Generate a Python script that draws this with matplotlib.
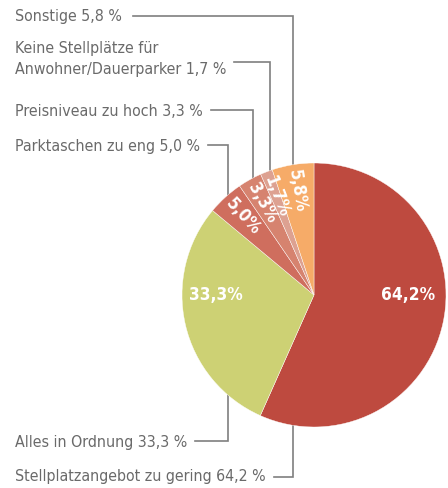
import numpy as np
import matplotlib
matplotlib.use("Agg")
import matplotlib.pyplot as plt

# ---- data ----
categories = ["Stellplatzangebot zu gering", "Alles in Ordnung", "Parktaschen zu eng",
              "Preisniveau zu hoch", "Keine Stellplätze für\nAnwohner/Dauerparker", "Sonstige"]
values = [64.2, 33.3, 5.0, 3.3, 1.7, 5.8]
value_labels = ["64,2%", "33,3%", "5,0%", "3,3%", "1,7%", "5,8%"]
legend_labels = ["Stellplatzangebot zu gering 64,2 %", "Alles in Ordnung 33,3 %",
                 "Parktaschen zu eng 5,0 %", "Preisniveau zu hoch 3,3 %",
                 "Keine Stellplätze für\nAnwohner/Dauerparker 1,7 %", "Sonstige 5,8 %"]
colors = ["#BE4A3F", "#CDD174", "#CF6E5E", "#D6836F", "#DDA191", "#F6AB68"]

plt.rcParams['font.family'] = ['Liberation Sans Narrow', 'DejaVu Sans']
STRETCH = 'condensed'

W, H = 448, 488
fig = plt.figure(figsize=(W / 100, H / 100), dpi=100)
ax = fig.add_axes([0, 0, 1, 1])

def Y(py):
    return H - py

cx, cy, R = 314, Y(295), 132
wedges, _ = ax.pie(values, colors=colors, startangle=90, counterclock=False,
                   center=(cx, cy), radius=R, frame=True,
                   wedgeprops=dict(edgecolor='white', linewidth=0.3))
ax.set_xlim(0, W)
ax.set_ylim(0, H)
ax.set_aspect('equal')
ax.axis('off')

renderer = fig.canvas.get_renderer()

def fit_size(txt, target_w, base, weight='normal'):
    t = fig.text(0, 0, txt, fontsize=base, fontweight=weight, fontstretch=STRETCH)
    w = t.get_window_extent(renderer).width
    t.remove()
    return base * target_w / w

label_fs = fit_size("Sonstige 5,8 %", 103, 12.5) * 1.04
value_fs = max(fit_size("64,2%", 43, 13, 'bold') * 1.25, 11)

# value labels inside
for i, (w, lab) in enumerate(zip(wedges, value_labels)):
    mid = np.deg2rad((w.theta1 + w.theta2) / 2)
    if i == 0:
        x, y, rot = cx + 0.71 * R, cy, 0
    elif i == 1:
        x, y, rot = cx - 0.74 * R, cy, 0
    else:
        x = cx + 0.80 * R * np.cos(mid)
        y = cy + 0.80 * R * np.sin(mid)
        deg = np.rad2deg(mid) % 360
        rot = deg - 180 if 90 < deg < 270 else deg
    ax.text(x, y, lab, color='white', fontsize=value_fs, fontweight='bold',
            fontstretch=STRETCH, ha='center', va='center', rotation=rot,
            rotation_mode='anchor')

# leader labels: (text y, line y, line start x, vertical x)
label_y = [477, 443, 147, 112, 59, 17]
line_y = [477, 441, 145, 110, 62, 16]
line_x0 = [260, 195, 197, 208, 228, 133]
line_vx = [293, 228, 228, 253, 270, 293]
gray = "#7f7f7f"
for i, txt in enumerate(legend_labels):
    t = ax.text(15, Y(label_y[i]), txt, color="#6a6a6a", fontsize=label_fs,
                fontstretch=STRETCH, ha='left', va='center', linespacing=1.5)
    bb = t.get_window_extent(renderer)
    x0 = max(line_x0[i], bb.x1 + 8)
    vx = line_vx[i]
    edge = np.sqrt(R ** 2 - (vx - cx) ** 2)
    yend = cy - edge if i < 2 else cy + edge
    ax.plot([x0, vx, vx], [Y(line_y[i]), Y(line_y[i]), yend],
            color=gray, lw=1.2, solid_joinstyle='miter', zorder=0)

fig.savefig("out.png", dpi=100, facecolor='white')
